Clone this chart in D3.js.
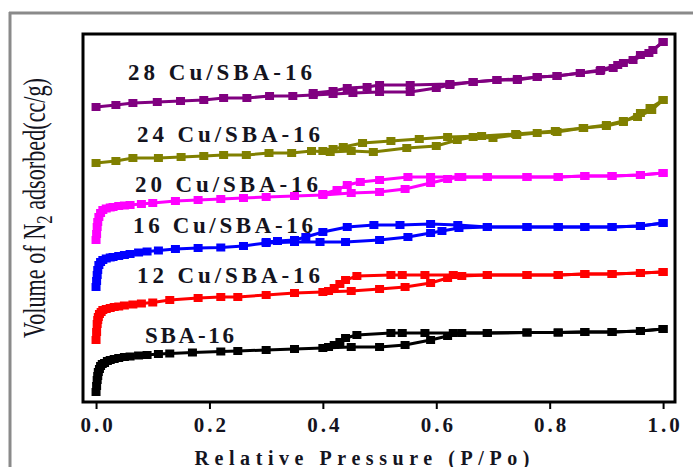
<!DOCTYPE html>
<html>
<head>
<meta charset="utf-8">
<script src="https://cdn.jsdelivr.net/npm/d3@7"></script>
<style>
  html, body { margin: 0; padding: 0; background: #fff; }
  svg { display: block; }
  .bold-serif { font-family: "Liberation Serif", "Times New Roman", serif; font-weight: 700; }
</style>
</head>
<body>
<div id="chart"></div>
<script>
// x ticks (relative pressure)
var xTicks = [0.0, 0.2, 0.4, 0.6, 0.8, 1.0];

// isotherms, [P/Po, volume] (volume in arbitrary stacked units)
var sbaAds = [[0,10],[0.001,16],[0.002,22],[0.003,26],[0.004,30],[0.006,33],[0.008,36],[0.011,38],[0.015,39],[0.02,41],[0.025,42],[0.032,43],[0.04,44],[0.05,45],[0.06,45.5],[0.075,46.5],[0.09,47],[0.11,48],[0.13,48.5],[0.17,49.5],[0.22,50.5],[0.25,51],[0.3,52],[0.35,53],[0.4,54],[0.45,55],[0.5,55],[0.545,57],[0.59,62],[0.62,66],[0.645,69],[0.69,69],[0.76,69.5],[0.815,69.5],[0.862,70],[0.91,70],[0.96,71],[1.0,73]];
var sbaDes = [[1.0,73],[0.96,71],[0.91,70],[0.862,70],[0.815,69.5],[0.76,69.5],[0.69,69],[0.63,69],[0.58,69],[0.54,69],[0.52,69],[0.46,67],[0.44,64],[0.43,60],[0.42,57],[0.41,55]];

var cu12Ads = [[0,62],[0.001,70],[0.002,78],[0.003,82],[0.004,85],[0.006,88],[0.009,90],[0.012,92],[0.018,93],[0.025,94],[0.032,95],[0.04,95.5],[0.05,96.5],[0.065,97.5],[0.08,98.5],[0.1,99.5],[0.13,102],[0.18,104],[0.22,105],[0.25,105],[0.3,107],[0.35,109],[0.4,110],[0.45,111],[0.5,113],[0.545,115],[0.59,119],[0.62,124],[0.645,126],[0.69,127],[0.76,127],[0.815,127],[0.862,128],[0.91,128],[0.96,129],[1.0,130]];
var cu12Des = [[1.0,130],[0.96,129],[0.91,128],[0.862,128],[0.815,127],[0.76,127],[0.69,127],[0.63,127],[0.58,127],[0.54,127],[0.52,127],[0.46,126],[0.44,122],[0.43,118],[0.42,114],[0.41,111]];

var cu16Ads = [[0,115],[0.001,121],[0.002,127],[0.003,132],[0.005,137],[0.008,140],[0.012,142],[0.018,143.5],[0.025,144.5],[0.03,145],[0.04,146],[0.05,147],[0.06,148],[0.075,149.5],[0.09,150.5],[0.11,151.5],[0.14,153],[0.18,154],[0.22,154.5],[0.26,156],[0.3,159],[0.35,160],[0.395,160],[0.44,160],[0.5,162],[0.55,165],[0.59,169],[0.61,171],[0.64,174],[0.69,175],[0.76,175],[0.815,175],[0.862,175],[0.91,175],[0.96,176],[1.0,179]];
var cu16Des = [[1.0,179],[0.96,176],[0.91,175],[0.862,175],[0.815,175],[0.76,175],[0.69,175],[0.638,177],[0.59,178],[0.536,177],[0.49,177],[0.443,175],[0.4,170],[0.37,165],[0.35,162],[0.32,161],[0.3,160]];

var cu20Ads = [[0,162],[0.001,168],[0.002,175],[0.003,180],[0.005,185],[0.008,189],[0.012,192],[0.018,193.5],[0.025,194.5],[0.03,195],[0.04,196],[0.05,196.5],[0.06,197],[0.08,198],[0.1,199],[0.14,201],[0.18,202],[0.22,203],[0.26,204],[0.3,205],[0.35,206],[0.4,207],[0.45,209],[0.5,210],[0.545,213],[0.59,219],[0.62,223],[0.645,225],[0.69,225],[0.76,225],[0.815,225],[0.862,226],[0.91,226],[0.96,227],[1.0,229]];
var cu20Des = [[1.0,229],[0.96,227],[0.91,226],[0.862,226],[0.815,225],[0.76,225],[0.69,225],[0.64,225],[0.59,225],[0.55,225],[0.5,222],[0.466,220],[0.443,217],[0.425,212],[0.4,208]];

var cu24Ads = [[0,239],[0.035,241],[0.065,244],[0.11,244],[0.15,245],[0.19,246],[0.225,247],[0.265,247],[0.305,249],[0.345,249],[0.38,251],[0.413,250],[0.45,251],[0.489,250],[0.548,254],[0.6,256],[0.637,262],[0.665,265],[0.7,264],[0.742,267],[0.778,269],[0.813,270],[0.859,274],[0.9,276],[0.93,280],[0.96,289],[0.977,294],[1.0,302]];
var cu24Des = [[1.0,302],[0.98,292],[0.955,285],[0.93,281],[0.9,277],[0.86,274],[0.81,271],[0.74,268],[0.68,266],[0.62,265],[0.57,263],[0.52,261],[0.47,259],[0.436,255],[0.418,253],[0.4,251]];

var cu28Ads = [[0,295],[0.035,297],[0.065,299],[0.108,300],[0.149,301],[0.19,302],[0.225,304],[0.266,304],[0.306,306],[0.347,306],[0.383,307],[0.418,308],[0.453,309],[0.5,310],[0.554,310],[0.6,314],[0.624,317],[0.665,320],[0.707,322],[0.743,322],[0.778,325],[0.813,326],[0.854,329],[0.889,331],[0.912,334],[0.93,339],[0.96,347],[0.982,352],[1.0,360]];
var cu28Des = [[1.0,360],[0.975,349],[0.947,342],[0.92,337],[0.89,332],[0.854,329],[0.813,326],[0.778,325],[0.743,323],[0.707,322],[0.665,320],[0.624,318],[0.554,317],[0.5,317],[0.478,315],[0.443,314],[0.418,311],[0.383,309]];

var seriesNames = ["SBA-16", "12 Cu/SBA-16", "16 Cu/SBA-16", "20 Cu/SBA-16", "24 Cu/SBA-16", "28 Cu/SBA-16"];
var seriesColors = ["#000000", "#ff0000", "#0000ff", "#ff00ff", "#808000", "#800080"];
var adsorption = [sbaAds, cu12Ads, cu16Ads, cu20Ads, cu24Ads, cu28Ads];
var desorption = [sbaDes, cu12Des, cu16Des, cu20Des, cu24Des, cu28Des];

var W = 693, H = 467;
var margin = {left: 83, top: 34, right: 18, bottom: 65};
var textColor = "#14141e";

var svg = d3.select("#chart").append("svg")
    .attr("width", W)
    .attr("height", H);

// outer grey frame (partly cut off, like the source image)
svg.append("line").attr("x1", 9).attr("x2", W).attr("y1", 13).attr("y2", 13)
    .attr("stroke", "#8a8a8a").attr("stroke-width", 3);
svg.append("line").attr("x1", 10).attr("x2", 10).attr("y1", 12).attr("y2", H)
    .attr("stroke", "#8a8a8a").attr("stroke-width", 3);

var x = d3.scaleLinear()
    .domain([-0.023, 1.021])
    .range([margin.left, W - margin.right]);
var y = d3.scaleLinear()
    .domain([0, 368])
    .range([H - margin.bottom, margin.top]);

var g = svg.append("g");

var line = d3.line()
    .x(function(d) { return x(d[0]); })
    .y(function(d) { return y(d[1]); });

seriesNames.forEach(function(name, i) {
    [adsorption[i], desorption[i]].forEach(function(branch) {
        g.append("path")
            .datum(branch)
            .attr("d", line)
            .attr("fill", "none")
            .attr("stroke", seriesColors[i])
            .attr("stroke-width", 3);
        g.selectAll(null)
            .data(branch)
            .enter()
            .append("rect")
            .attr("x", function(d) { return x(d[0]) - 4.5; })
            .attr("y", function(d) { return y(d[1]) - 4; })
            .attr("width", 9)
            .attr("height", 8)
            .attr("fill", seriesColors[i]);
    });
});

// series labels
var labelPos = [[145, 343, 89], [137, 283, 183], [133, 233, 180], [135, 192, 183], [137, 142, 183], [128, 80, 184]];
seriesNames.forEach(function(name, i) {
    svg.append("text")
        .attr("class", "bold-serif")
        .attr("x", labelPos[i][0])
        .attr("y", labelPos[i][1])
        .style("font-size", "23px")
        .attr("textLength", labelPos[i][2])
        .attr("lengthAdjust", "spacing")
        .attr("fill", textColor)
        .text(name);
});

// bottom axis
var xAxis = d3.axisBottom(x)
    .tickValues(xTicks)
    .tickFormat(d3.format(".1f"))
    .tickSize(7)
    .tickSizeOuter(0);
var ax = svg.append("g")
    .attr("transform", "translate(0," + (H - margin.bottom) + ")")
    .call(xAxis);
ax.select(".domain").remove();
ax.selectAll(".tick line").attr("stroke", "#000").attr("stroke-width", 2);
ax.selectAll(".tick text")
    .attr("class", "bold-serif")
    .style("font-size", "21px")
    .style("letter-spacing", "3px")
    .attr("dx", 1.5)
    .attr("dy", 0)
    .attr("y", 30)
    .attr("fill", textColor);

// plot frame
svg.append("rect")
    .attr("x", margin.left)
    .attr("y", margin.top)
    .attr("width", W - margin.right - margin.left)
    .attr("height", H - margin.bottom - margin.top)
    .attr("fill", "none")
    .attr("stroke", "#000")
    .attr("stroke-width", 3);

// axis titles
svg.append("text")
    .attr("class", "bold-serif")
    .attr("x", 362)
    .attr("y", 465)
    .attr("text-anchor", "middle")
    .style("font-size", "20px")
    .attr("textLength", 335)
    .attr("lengthAdjust", "spacing")
    .attr("fill", textColor)
    .text("Relative Pressure (P/Po)");

var yt = svg.append("text")
    .attr("transform", "translate(45,208) rotate(-90)")
    .attr("text-anchor", "middle")
    .style("font-family", "'Liberation Serif', 'Times New Roman', serif")
    .style("font-size", "32px")
    .attr("textLength", 260)
    .attr("lengthAdjust", "spacingAndGlyphs")
    .attr("fill", textColor);
yt.append("tspan").text("Volume of N");
yt.append("tspan").attr("dy", 7).style("font-size", "24px").text("2");
yt.append("tspan").attr("dy", -7).text(" adsorbed(cc/g)");
</script>
</body>
</html>
